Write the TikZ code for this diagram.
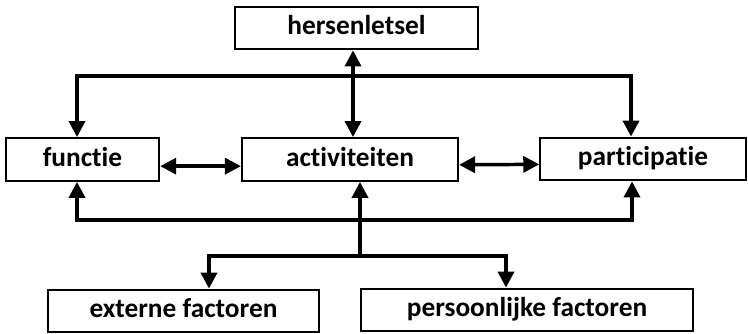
\documentclass[tikz,border=0pt]{standalone}
\usepackage{fontspec}
\setmainfont{Carlito}[Ligatures={NoCommon,NoContextual}]
\usetikzlibrary{arrows.meta}

\tikzset{
  box/.style={draw, line width=1.6pt, inner sep=0pt, minimum height=32pt,
    text height=14pt, text depth=4pt,
    font=\fontsize{20.5}{24}\selectfont\bfseries},
  link/.style={line width=2.6pt, {Triangle[length=12pt,width=12pt]}-{Triangle[length=12pt,width=12pt]}},
  oneway/.style={line width=2.6pt, -{Triangle[length=12pt,width=12pt]}},
  plain/.style={line width=2.6pt}
}

\begin{document}
\begin{tikzpicture}[x=0.75pt, y=-0.75pt]
  \useasboundingbox (0,0) rectangle (748,334);
  \begin{scope}
    \node[box, minimum width=182pt] (hersen) at (356.5,28) {hersenletsel};

    \node[box, minimum width=115pt] (fun) at (82.5,159.5) {functie};
    \node[box, minimum width=162pt] (act) at (350,159.5) {activiteiten};
    \node[box, minimum width=154pt] (par) at (643,159) {participatie};

    \node[box, minimum width=203pt] (ext) at (183.5,311) {externe factoren};
    \node[box, minimum width=249pt] (pers) at (527,310) {persoonlijke factoren};

    \coordinate (hub) at (353,76);
    \coordinate (tl) at (77,76);
    \coordinate (tr) at (631,76);
    \coordinate (bl) at (77,220);
    \coordinate (br) at (632,220);
    \coordinate (mid) at (360,220);
    \coordinate (fork) at (360,256);
    \coordinate (el) at (209,256);
    \coordinate (pr) at (506,256);

    \draw[link] (hub |- hersen.south) -- (hub |- act.north);
    \draw[link] (tl |- fun.north) -- (tl) -- (tr) -- (tr |- par.north);

    \draw[link] ([yshift=-5pt]fun.east) -- ([yshift=-5pt]act.west);
    \draw[link] ([yshift=-4pt]act.east) -- ([yshift=-4pt]par.west);

    \draw[link] (bl |- fun.south) -- (bl) -- (br) -- (br |- par.south);
    \draw[oneway] (mid) -- (mid |- act.south);
    \draw[plain] (mid) -- (fork);
    \draw[oneway] (fork) -- (el) -- (el |- ext.north);
    \draw[oneway] (fork) -- (pr) -- (pr |- pers.north);
  \end{scope}
\end{tikzpicture}
\end{document}
